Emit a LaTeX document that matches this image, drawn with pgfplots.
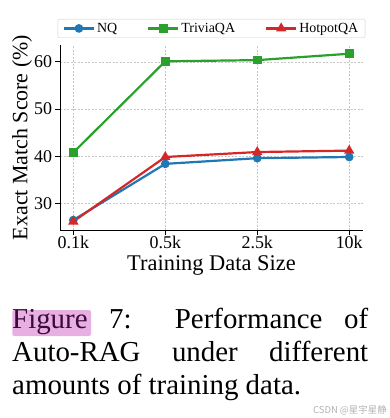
\documentclass[border=0pt]{standalone}
\usepackage{pgfplots}
\pgfplotsset{compat=1.18}
\usepackage{fontspec}
\setmainfont{Liberation Serif}
\newfontfamily\cjk{Noto Sans CJK SC}
\definecolor{tabblue}{HTML}{1F77B4}
\definecolor{tabgreen}{HTML}{2CA02C}
\definecolor{tabred}{HTML}{D62728}
\definecolor{hl}{HTML}{E8B0E2}
\definecolor{figtxt}{HTML}{3A0A3A}
\begin{document}
\begin{tikzpicture}[x=1bp,y=1bp]
\useasboundingbox (0,0) rectangle (390,-418);
\begin{axis}[
  at={(60bp,-230bp)}, anchor=south west,
  scale only axis, width=303bp, height=185bp,
  xmin=-0.145, xmax=3.15, ymin=24.4, ymax=63.55,
  xtick={0,1,2,3}, xticklabels={0.1k,0.5k,2.5k,10k},
  ytick={30,40,50,60},
  axis x line*=bottom, axis y line*=left,
  axis line style={line width=0.9bp, -},
  tick style={black, line width=0.9bp},
  major tick length=4.5bp,
  tick align=outside,
  grid=major,
  major grid style={gray!45, line width=0.5bp, dash pattern=on 2bp off 1.5bp},
  /pgf/number format/assume math mode=true,
  ticklabel style={font=\fontsize{18}{20}\selectfont},
  xticklabel style={inner ysep=1bp},
  xlabel={Training Data Size},
  ylabel={Exact Match Score (\%)},
  every axis x label/.style={at={(axis description cs:0.5,-0.19)}, anchor=center, inner sep=0pt, font=\fontsize{22.5}{24}\selectfont},
  every axis y label/.style={at={(axis description cs:-0.125,0.5)}, rotate=90, anchor=center, font=\fontsize{22}{24}\selectfont},
  legend columns=3,
  legend style={at={(0.5,1.038)}, anchor=south, draw=black!20, rounded corners=2bp,
    font=\fontsize{14}{16}\selectfont, inner xsep=5bp, inner ysep=2bp,
    /tikz/every odd column/.append style={inner xsep=1bp},
    /tikz/every even column/.append style={column sep=28bp, inner xsep=4bp}},
  legend image code/.code={
    \draw[mark repeat=2,mark phase=2,#1] plot coordinates {(0bp,0bp) (15bp,0bp) (30bp,0bp)};
  },
  every axis plot/.append style={line width=2.2bp},
]
\addplot[color=tabblue, mark=*, mark size=3.2bp, mark options={solid}] coordinates {(0,26.5) (1,38.4) (2,39.6) (3,39.85)};
\addlegendentry{NQ}
\addplot[color=tabgreen, mark=square*, mark size=3.2bp, mark options={solid}] coordinates {(0,40.8) (1,60.1) (2,60.35) (3,61.7)};
\addlegendentry{TriviaQA}
\addplot[color=tabred, mark=triangle*, mark size=3.8bp, mark options={solid}] coordinates {(0,26.2) (1,39.85) (2,40.9) (3,41.2)};
\addlegendentry{HotpotQA}
\end{axis}
\fill[hl, rounded corners=2bp] (12.3,-310) rectangle (91,-336);
\node[anchor=base west, inner sep=0pt, font=\fontsize{29}{33}\selectfont] at (12,-328)
  {\hbox to 356bp{\textcolor{figtxt}{Figure}\hskip 0pt plus 1fill 7:\hskip 0pt plus 2fill Performance\hskip 0pt plus 1fill of}};
\node[anchor=base west, inner sep=0pt, font=\fontsize{29}{33}\selectfont] at (12,-361)
  {\hbox to 356bp{Auto-RAG\hfill under\hfill different}};
\node[anchor=base west, inner sep=0pt, font=\fontsize{29}{33}\selectfont] at (12,-394)
  {amounts of training data.};
\node[anchor=base east, inner sep=0pt, text=black!30, font=\fontsize{9.5}{11}\cjk] at (387,-413)
  {CSDN @星宇星静};
\end{tikzpicture}
\end{document}
